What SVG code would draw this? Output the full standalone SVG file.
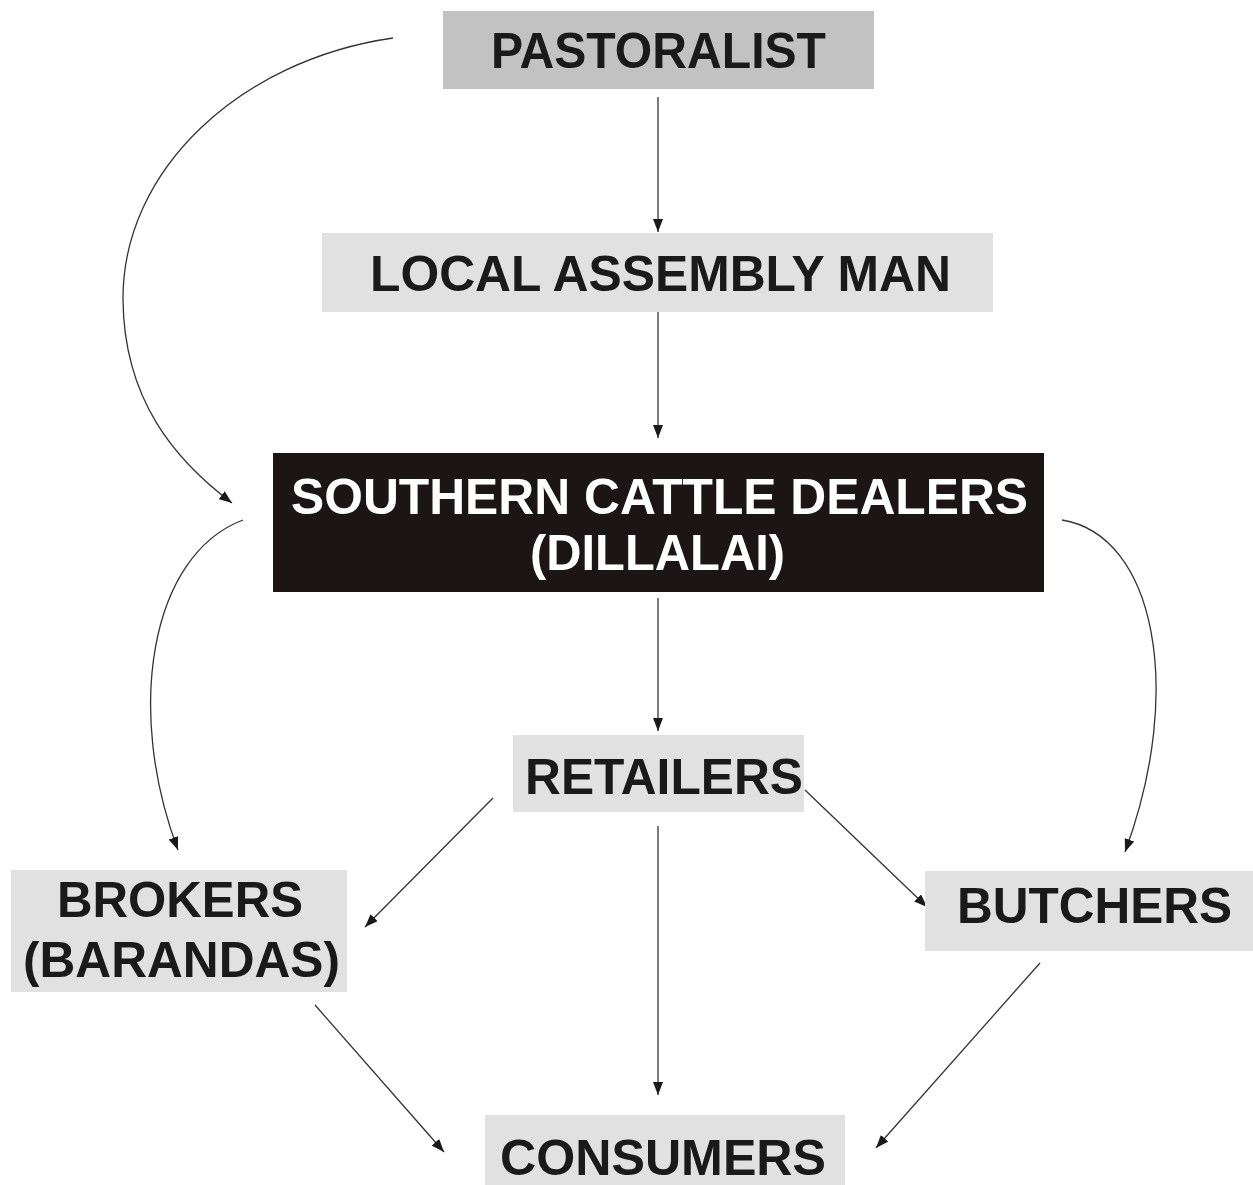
<svg xmlns="http://www.w3.org/2000/svg" width="1253" height="1185" viewBox="0 0 1253 1185">
<style>
.box{fill:#e1e1e1}
.dark{fill:#1b1516}
.mid{fill:#c2c2c2}
.t{font-family:"Liberation Sans",Arial,sans-serif;font-weight:bold;font-size:50px;fill:#1a1a1a;text-anchor:middle}
.w{fill:#ffffff}
.c{fill:none;stroke:#333;stroke-width:1.3}
</style>
<defs>
<marker id="ah" markerUnits="userSpaceOnUse" markerWidth="13" markerHeight="10" viewBox="0 0 13 10" refX="13" refY="5" orient="auto">
<path d="M0,0 L13,5 L0,10 z" fill="#1a1a1a"/>
</marker>
</defs>
<rect width="1253" height="1185" fill="#ffffff"/>
<g id="connectors">
<path class="c" marker-end="url(#ah)" d="M393,38 C240,60 122,170 123,300 C124,400 175,460 232,503"/>
<path class="c" marker-end="url(#ah)" d="M243,520 C150,555 125,710 178,850"/>
<path class="c" marker-end="url(#ah)" d="M1062,520 C1155,535 1185,690 1125,852"/>
<path class="c" marker-end="url(#ah)" d="M658,97 L658,232"/>
<path class="c" marker-end="url(#ah)" d="M658,305 L658,438"/>
<path class="c" marker-end="url(#ah)" d="M658,598 L658,731"/>
<path class="c" marker-end="url(#ah)" d="M658,826 L658,1095"/>
<path class="c" marker-end="url(#ah)" d="M493,798 L365,927"/>
<path class="c" marker-end="url(#ah)" d="M805,790 L927,907"/>
<path class="c" marker-end="url(#ah)" d="M315,1005 L444,1152"/>
<path class="c" marker-end="url(#ah)" d="M1040,963 L876,1148"/>
</g>
<g id="pastoralist">
<rect class="mid" x="443" y="11" width="431" height="78"/>
<text class="t" x="658.5" y="68" textLength="335" lengthAdjust="spacingAndGlyphs">PASTORALIST</text>
</g>
<g id="local-assembly-man">
<rect class="box" x="322" y="233" width="671" height="79"/>
<text class="t" x="660.5" y="291" textLength="581" lengthAdjust="spacingAndGlyphs">LOCAL ASSEMBLY MAN</text>
</g>
<g id="southern-cattle-dealers">
<rect class="dark" x="273" y="453" width="771" height="139"/>
<text class="t w" x="659.5" y="514" textLength="737" lengthAdjust="spacingAndGlyphs">SOUTHERN CATTLE DEALERS</text>
<text class="t w" x="657.5" y="570" textLength="255" lengthAdjust="spacingAndGlyphs">(DILLALAI)</text>
</g>
<g id="retailers">
<rect class="box" x="513" y="735" width="291" height="77"/>
<text class="t" x="664" y="794" textLength="278" lengthAdjust="spacingAndGlyphs">RETAILERS</text>
</g>
<g id="brokers">
<rect class="box" x="11" y="870" width="336" height="122"/>
<text class="t" x="180" y="917" textLength="246" lengthAdjust="spacingAndGlyphs">BROKERS</text>
<text class="t" x="181.5" y="977" textLength="317" lengthAdjust="spacingAndGlyphs">(BARANDAS)</text>
</g>
<g id="butchers">
<rect class="box" x="925" y="871" width="328" height="80"/>
<text class="t" x="1094.5" y="923" textLength="275" lengthAdjust="spacingAndGlyphs">BUTCHERS</text>
</g>
<g id="consumers">
<rect class="box" x="485" y="1115" width="360" height="70"/>
<text class="t" x="663" y="1175" textLength="326" lengthAdjust="spacingAndGlyphs">CONSUMERS</text>
</g>
</svg>
